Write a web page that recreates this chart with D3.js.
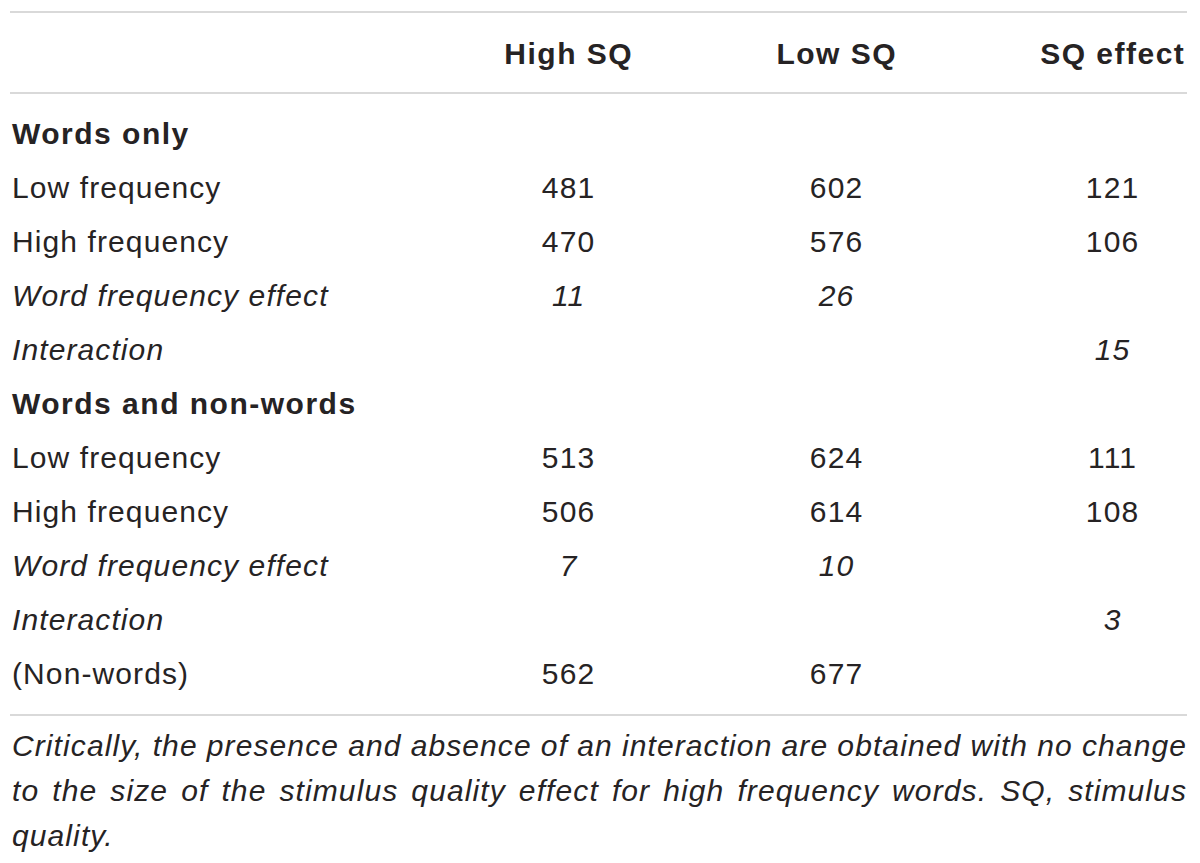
<!DOCTYPE html>
<html>
<head>
<meta charset="utf-8">
<script src="https://cdnjs.cloudflare.com/ajax/libs/d3/7.8.5/d3.min.js"></script>
<style>
  body { margin: 0; background: #fff; }
  svg { display: block; }
</style>
</head>
<body>
<div class="canvas"></div>
<script>
// table data
let columns = ['High SQ', 'Low SQ', 'SQ effect'];
let rowLabels = ['Words only', 'Low frequency', 'High frequency', 'Word frequency effect', 'Interaction',
                 'Words and non-words', 'Low frequency', 'High frequency', 'Word frequency effect', 'Interaction',
                 '(Non-words)'];
let rowKinds = ['section', 'plain', 'plain', 'italic', 'italic',
                'section', 'plain', 'plain', 'italic', 'italic', 'plain'];
let highSQ   = [null, 481, 470, 11, null, null, 513, 506, 7, null, 562];
let lowSQ    = [null, 602, 576, 26, null, null, 624, 614, 10, null, 677];
let sqEffect = [null, 121, 106, null, 15, null, 111, 108, null, 3, null];
let footLines = ['Critically, the presence and absence of an interaction are obtained with no change',
                 'to the size of the stimulus quality effect for high frequency words. SQ, stimulus',
                 'quality.'];

let W = 1200, H = 863;
let FONT = "'Liberation Sans', Arial, Helvetica, sans-serif";
let INK = '#262324';
let left = 10, right = 1187;
let SIZE = 30, SPACE = 1.1, BSPACE = 1.5;

var svg = d3.select(".canvas").append("svg").attr("width", W).attr("height", H);

// scales
let y = d3.scaleLinear().domain([0, rowLabels.length - 1]).range([144, 684]);
let x = d3.scaleOrdinal().domain(columns).range([568, 836, 1112]);

// rules
[12, 93, 715].forEach(function (ly) {
    svg.append('line')
        .attr('x1', left).attr('x2', right)
        .attr('y1', ly).attr('y2', ly)
        .attr('stroke', '#cccccc')
        .attr('stroke-width', 1.6);
});

// header
svg.selectAll('text.head')
    .data(columns)
    .enter().append('text')
    .attr('class', 'head')
    .text(d => d)
    .attr('x', d => x(d) + BSPACE / 2)
    .attr('y', 64)
    .attr('text-anchor', 'middle')
    .attr('font-family', FONT)
    .attr('font-weight', 'bold')
    .attr('font-size', SIZE)
    .attr('letter-spacing', BSPACE)
    .attr('fill', INK);

// row labels
svg.selectAll('text.row')
    .data(rowLabels)
    .enter().append('text')
    .attr('class', 'row')
    .text(d => d)
    .attr('x', 12)
    .attr('y', (d, i) => y(i))
    .attr('font-family', FONT)
    .attr('font-weight', (d, i) => rowKinds[i] == 'section' ? 'bold' : 'normal')
    .attr('font-style', (d, i) => rowKinds[i] == 'italic' ? 'italic' : 'normal')
    .attr('font-size', SIZE)
    .attr('letter-spacing', (d, i) => rowKinds[i] == 'section' ? BSPACE : SPACE)
    .attr('fill', INK);

// cells
let series = [highSQ, lowSQ, sqEffect];
series.forEach(function (vals, c) {
    let cells = vals.map((v, i) => ({ v: v, i: i })).filter(d => d.v !== null);
    svg.selectAll('text.c' + c)
        .data(cells)
        .enter().append('text')
        .attr('class', 'c' + c)
        .text(d => d.v)
        .attr('x', x(columns[c]) + SPACE / 2)
        .attr('y', d => y(d.i))
        .attr('text-anchor', 'middle')
        .attr('font-family', FONT)
        .attr('font-style', d => rowKinds[d.i] == 'italic' ? 'italic' : 'normal')
        .attr('font-size', SIZE)
        .attr('letter-spacing', SPACE)
        .attr('fill', INK);
});

// footnote, justified
let footY = d3.scaleLinear().domain([0, 2]).range([756, 846]);
footLines.forEach(function (line, li) {
    let words = line.split(' ');
    let g = svg.append('g');
    let nodes = words.map(function (w) {
        return g.append('text')
            .text(w)
            .attr('y', footY(li))
            .attr('font-family', FONT)
            .attr('font-style', 'italic')
            .attr('font-size', SIZE)
            .attr('letter-spacing', SPACE)
            .attr('fill', INK);
    });
    let widths = nodes.map(n => n.node().getComputedTextLength());
    let total = d3.sum(widths);
    let last = li == footLines.length - 1;
    let gap = last ? 8 : (right - 12 - total) / (words.length - 1);
    let cx = 12;
    nodes.forEach(function (n, k) {
        n.attr('x', cx);
        cx += widths[k] + gap;
    });
});
</script>
</body>
</html>
